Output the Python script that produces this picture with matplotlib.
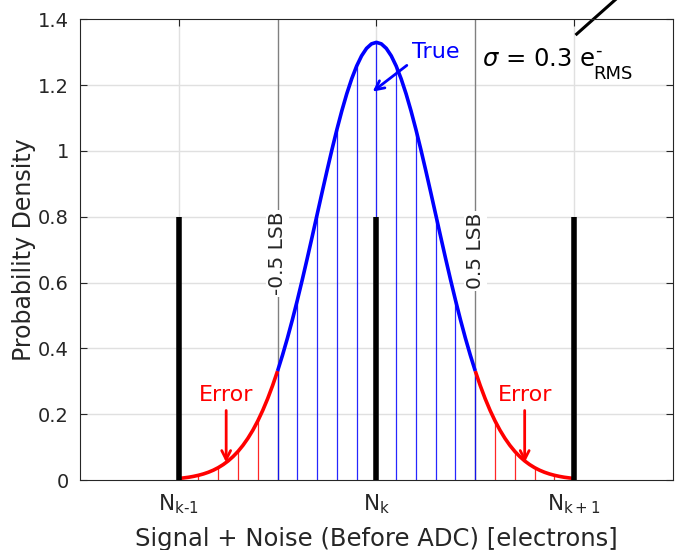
import numpy as np
import matplotlib
matplotlib.use("Agg")
import matplotlib.pyplot as plt

# density (right half, step 0.025, curve is symmetric about N_k)
x_half = [0.000, 0.025, 0.050, 0.075, 0.100, 0.125, 0.150, 0.175, 0.200, 0.225,
          0.250, 0.275, 0.300, 0.325, 0.350, 0.375, 0.400, 0.425, 0.450, 0.475,
          0.500, 0.525, 0.550, 0.575, 0.600, 0.625, 0.650, 0.675, 0.700, 0.725,
          0.750, 0.775, 0.800, 0.825, 0.850, 0.875, 0.900, 0.925, 0.950, 0.975, 1.000]
density_half = [1.3298, 1.3252, 1.3115, 1.2889, 1.2579, 1.2192, 1.1736, 1.1218, 1.0648, 1.0038,
                0.9397, 0.8737, 0.8066, 0.7395, 0.6733, 0.6088, 0.5467, 0.4875, 0.4317, 0.3797,
                0.3316, 0.2876, 0.2477, 0.2119, 0.1800, 0.1518, 0.1272, 0.1058, 0.0874, 0.0717,
                0.0584, 0.0473, 0.0380, 0.0303, 0.0240, 0.0189, 0.0148, 0.0115, 0.0088, 0.0068, 0.0051]
levels = [-1, 0, 1]
level_height = 0.8
lsb_edges = [-0.5, 0.5]
lsb_labels = ["-0.5 LSB", "0.5 LSB"]
xtick_labels = [r"N$_{\mathrm{k\text{-}1}}$", r"N$_{\mathrm{k}}$", r"N$_{\mathrm{k+1}}$"]
ytick_labels = ['0', '0.2', '0.4', '0.6', '0.8', '1', '1.2', '1.4']

plt.rcParams['font.family'] = ['DejaVu Sans']
plt.rcParams['mathtext.fontset'] = 'dejavusans'

x = np.concatenate([-np.array(x_half[:0:-1]), np.array(x_half)])
y = np.concatenate([np.array(density_half[:0:-1]), np.array(density_half)])

fig = plt.figure(figsize=(6.77, 5.5), dpi=100)
ax = fig.add_axes([0.118, 0.127, 0.876, 0.838])
dark = '#262626'

# grid
for gy in np.arange(0.2, 1.4, 0.2):
    ax.axhline(gy, color='#e0e0e0', lw=1, zorder=0)
for gx in levels:
    ax.axvline(gx, color='#e0e0e0', lw=1, zorder=0)

# stems every 0.1
for i in range(4, len(x) - 1, 4):
    c = 'red' if abs(x[i]) > 0.5 + 1e-9 else 'blue'
    ax.plot([x[i], x[i]], [0, y[i]], color=c, lw=0.9, alpha=0.85, zorder=2)

# LSB boundaries
for xe, lab in zip(lsb_edges, lsb_labels):
    ax.axvline(xe, color='#808080', lw=1, zorder=1)
    yc = 0.688 if xe < 0 else 0.697
    ax.text(xe, yc, lab, rotation=90, ha='center', va='center', fontsize=14.5,
            color=dark, bbox=dict(facecolor='white', edgecolor='none', pad=1.5), zorder=3)

# curve
inner = np.abs(x) <= 0.5 + 1e-9
left = x <= -0.5 + 1e-9
right = x >= 0.5 - 1e-9
ax.plot(x[left], y[left], color='red', lw=2.6, zorder=4, solid_capstyle='butt')
ax.plot(x[right], y[right], color='red', lw=2.6, zorder=4, solid_capstyle='butt')
ax.plot(x[inner], y[inner], color='blue', lw=2.6, zorder=4, solid_capstyle='butt')

# quantization levels
for lv in levels:
    ax.plot([lv, lv], [0, level_height], color='black', lw=4, zorder=5, solid_capstyle='butt')

# annotations
ax.annotate('', xy=(-0.03, 1.175), xytext=(0.165, 1.265),
            arrowprops=dict(arrowstyle='->', color='blue', lw=2, mutation_scale=16), zorder=6)
ax.text(0.3, 1.30, 'True', color='blue', fontsize=16, ha='center', va='center')
for ex in [-0.76, 0.75]:
    ax.annotate('', xy=(ex, 0.045), xytext=(ex, 0.22),
                arrowprops=dict(arrowstyle='->', color='red', lw=2, mutation_scale=16), zorder=6)
    ax.text(ex, 0.258, 'Error', color='red', fontsize=16, ha='center', va='center')

ax.text(0.532, 1.258, r'$\sigma$ = 0.3 e', fontsize=17.5, ha='left', va='baseline', color='black')
ax.text(1.108, 1.29, '-', fontsize=13, ha='left', va='baseline', color='black')
ax.text(1.099, 1.217, 'RMS', fontsize=13, ha='left', va='baseline', color='black')
ax.plot([1.013, 1.313], [1.355, 1.515], color='black', lw=2.2, clip_on=False)

ax.set_xlim(-1.5, 1.5)
ax.set_ylim(0, 1.4)
ax.set_xticks(levels)
ax.set_xticklabels(xtick_labels, fontsize=15.5)
ax.set_yticks(np.arange(0, 1.41, 0.2))
ax.set_yticklabels(ytick_labels)
ax.tick_params(direction='in', top=True, right=True, labelsize=14, colors=dark, length=5, pad=8)
ax.tick_params(axis='x', labelsize=15.5, pad=9)
for s in ax.spines.values():
    s.set_color(dark)
ax.set_xlabel('Signal + Noise (Before ADC) [electrons]', fontsize=17.5, color=dark, labelpad=8)
ax.set_ylabel('Probability Density', fontsize=17, color=dark, labelpad=1.5)

fig.savefig('out.png', dpi=100)
